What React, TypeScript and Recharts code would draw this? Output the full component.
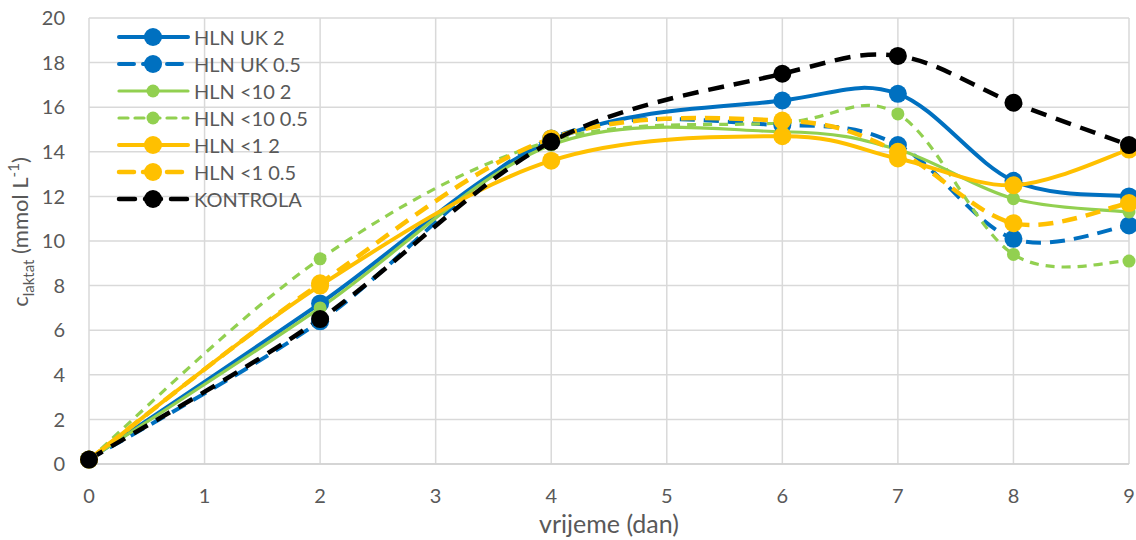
import React from 'react';
import { LineChart, Line, XAxis, YAxis, CartesianGrid, Legend } from 'recharts';

// sampling days and measured lactate (mmol/L)
const days = [0, 2, 4, 6, 7, 8, 9];
const ukTwo = [0.2, 7.2, 14.5, 16.3, 16.6, 12.7, 12.0];
const ukHalf = [0.2, 6.4, 14.6, 15.2, 14.3, 10.1, 10.7];
const lt10Two = [0.2, 7.0, 14.3, 14.9, 14.1, 11.9, 11.3];
const lt10Half = [0.2, 9.2, 14.5, 15.3, 15.7, 9.4, 9.1];
const lt1Two = [0.2, 8.0, 13.6, 14.7, 13.7, 12.5, 14.1];
const lt1Half = [0.2, 8.1, 14.6, 15.4, 14.0, 10.8, 11.7];
const kontrola = [0.2, 6.5, 14.45, 17.5, 18.3, 16.2, 14.3];

const xTicks = [0, 1, 2, 3, 4, 5, 6, 7, 8, 9];
const yTicks = [0, 2, 4, 6, 8, 10, 12, 14, 16, 18, 20];

const FONT = 'Lato, "Open Sans", sans-serif';
const TEXT = '#595959';

const series = [
  { key: 'ukTwo', name: 'HLN UK 2', values: ukTwo, color: '#0070C0', dash: undefined, width: 4, r: 9 },
  { key: 'ukHalf', name: 'HLN UK 0.5', values: ukHalf, color: '#0070C0', dash: '15 9', width: 4, r: 9 },
  { key: 'lt10Two', name: 'HLN <10 2', values: lt10Two, color: '#92D050', dash: undefined, width: 3.2, r: 6.5 },
  { key: 'lt10Half', name: 'HLN <10 0.5', values: lt10Half, color: '#92D050', dash: '9 7', width: 3.2, r: 6.5 },
  { key: 'lt1Two', name: 'HLN <1 2', values: lt1Two, color: '#FFC000', dash: undefined, width: 4, r: 9 },
  { key: 'lt1Half', name: 'HLN <1 0.5', values: lt1Half, color: '#FFC000', dash: '15 9', width: 4.5, r: 9 },
  { key: 'kontrola', name: 'KONTROLA', values: kontrola, color: '#000000', dash: '16 10', width: 4.5, r: 9 },
];

const chartData = days.map((d, i) => {
  const row: Record<string, number> = { day: d };
  series.forEach((s) => { row[s.key] = s.values[i]; });
  return row;
});

// Excel-like smoothed line (Catmull-Rom through the points)
const excelSmooth = (context: any) => {
  let pts: number[][] = [];
  return {
    areaStart() {},
    areaEnd() {},
    lineStart() { pts = []; },
    point(x: number, y: number) { pts.push([+x, +y]); },
    lineEnd() {
      if (!pts.length) return;
      context.moveTo(pts[0][0], pts[0][1]);
      for (let i = 0; i < pts.length - 1; i++) {
        const p0 = pts[i - 1] || pts[i];
        const p1 = pts[i];
        const p2 = pts[i + 1];
        const p3 = pts[i + 2] || p2;
        context.bezierCurveTo(
          p1[0] + (p2[0] - p0[0]) / 6, p1[1] + (p2[1] - p0[1]) / 6,
          p2[0] - (p3[0] - p1[0]) / 6, p2[1] - (p3[1] - p1[1]) / 6,
          p2[0], p2[1],
        );
      }
    },
  };
};

const LegendBox = () => (
  <div style={{ fontFamily: FONT, fontSize: 20, color: TEXT }}>
    {series.map((s) => (
      <div key={s.key} style={{ display: 'flex', alignItems: 'center', height: 27 }}>
        <svg width={78} height={24}>
          <line x1={3} y1={12} x2={72} y2={12} stroke={s.color} strokeWidth={s.width}
            strokeDasharray={s.dash} strokeLinecap="round" />
          <circle cx={37} cy={12} r={s.r} fill={s.color} />
        </svg>
        <span style={{ whiteSpace: 'nowrap' }}>{s.name}</span>
      </div>
    ))}
  </div>
);

const YLabel = () => (
  <text x={28} y={232} transform="rotate(-90, 28, 232)" textAnchor="middle"
    fill={TEXT} fontFamily={FONT} fontSize={22}>
    c
    <tspan fontSize={15} dy={6}>laktat</tspan>
    <tspan dy={-6}> (mmol L</tspan>
    <tspan fontSize={15} dy={-9}>-1</tspan>
    <tspan dy={9}>)</tspan>
  </text>
);

export default function App() {
  return (
    <div style={{ position: 'absolute', left: 0, top: 0, width: 1136, height: 540, background: '#fff' }}>
      <LineChart width={1136} height={540} data={chartData}
        margin={{ top: 18, right: 7, bottom: 0, left: 0 }}>
        <CartesianGrid stroke="#d9d9d9" strokeWidth={1.5} />
        <XAxis type="number" dataKey="day" domain={[0, 9]} ticks={xTicks} height={76}
          axisLine={{ stroke: '#d0d0d0', strokeWidth: 1.5 }} tickLine={false} tickSize={0} tickMargin={25}
          tick={{ fill: TEXT, fontFamily: FONT, fontSize: 20 }}
          label={{ value: 'vrijeme (dan)', position: 'insideBottom', offset: 7, fill: TEXT, fontFamily: FONT, fontSize: 25 }} />
        <YAxis type="number" domain={[0, 20]} ticks={yTicks} width={89} interval={0}
          axisLine={false} tickLine={false} tickSize={0} tickMargin={24}
          tick={{ fill: TEXT, fontFamily: FONT, fontSize: 20 }}
          label={<YLabel />} />
        <Legend layout="vertical" align="center" verticalAlign="middle"
          wrapperStyle={{ left: 116, top: 23, width: 240, height: 'auto' }}
          content={<LegendBox />} />
        {series.map((s) => (
          <Line key={s.key} dataKey={s.key} name={s.name} type={excelSmooth as any}
            stroke={s.color} strokeWidth={s.width} strokeDasharray={s.dash}
            dot={{ r: s.r, fill: s.color, stroke: 'none', strokeDasharray: '0' }}
            activeDot={false} isAnimationActive={false} />
        ))}
      </LineChart>
    </div>
  );
}
